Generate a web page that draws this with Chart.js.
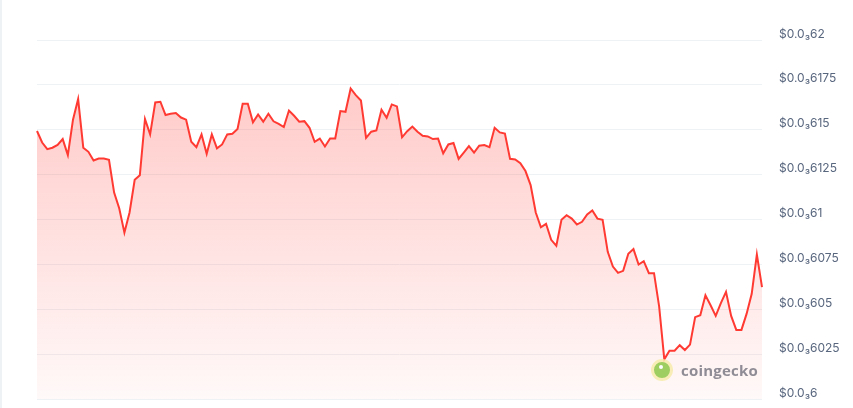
<!DOCTYPE html>
<html>
<head>
<meta charset="utf-8">
<script src="https://cdn.jsdelivr.net/npm/chart.js@4.4.1/dist/chart.umd.min.js"></script>
<style>
  html, body { margin: 0; padding: 0; background: #fff; }
  #wrap { position: relative; width: 853px; height: 408px; border-left: 2px solid #eff2f5; box-sizing: border-box; }
  #priceChart { position: absolute; left: 0; top: 0; }
  .watermark { position: absolute; left: 649px; top: 359px; display: flex; align-items: center; opacity: 0.85; }
  .gecko { width: 22px; height: 22px; border-radius: 50%; background: #8dc647; border: 3px solid #f7ecab; box-sizing: border-box; position: relative; }
  .gecko::after { content: ""; position: absolute; left: 5px; top: 3px; width: 4px; height: 4px; border-radius: 50%; background: #fff; }
  .wm-text { margin-left: 8px; font-family: "Open Sans", Lato, sans-serif; font-weight: 700; font-size: 15px; color: #7c7a85; letter-spacing: 0.2px; }
</style>
</head>
<body>
<div id="wrap">
  <canvas id="priceChart" width="851" height="408"></canvas>
  <div class="watermark"><div class="gecko"></div><span class="wm-text">coingecko</span></div>
</div>
<script>
// =====================
// DATA
// =====================
const prices = [
  0.00061493, 0.00061429, 0.00061392, 0.00061400, 0.00061415, 0.00061448, 0.00061359, 0.00061556,
  0.00061671, 0.00061400, 0.00061377, 0.00061329, 0.00061340, 0.00061340, 0.00061333, 0.00061150,
  0.00061061, 0.00060927, 0.00061039, 0.00061221, 0.00061247, 0.00061560, 0.00061474, 0.00061652,
  0.00061656, 0.00061582, 0.00061589, 0.00061593, 0.00061568, 0.00061556, 0.00061433, 0.00061403,
  0.00061474, 0.00061366, 0.00061474, 0.00061396, 0.00061418, 0.00061474, 0.00061478, 0.00061504,
  0.00061645, 0.00061645, 0.00061541, 0.00061585, 0.00061545, 0.00061589, 0.00061547, 0.00061533,
  0.00061515, 0.00061607, 0.00061578, 0.00061545, 0.00061548, 0.00061511, 0.00061433, 0.00061451,
  0.00061407, 0.00061451, 0.00061451, 0.00061604, 0.00061600, 0.00061730, 0.00061693, 0.00061663,
  0.00061455, 0.00061489, 0.00061496, 0.00061611, 0.00061567, 0.00061641, 0.00061630, 0.00061458,
  0.00061492, 0.00061518, 0.00061489, 0.00061466, 0.00061463, 0.00061448, 0.00061451, 0.00061369,
  0.00061418, 0.00061426, 0.00061338, 0.00061373, 0.00061409, 0.00061373, 0.00061411, 0.00061415,
  0.00061403, 0.00061511, 0.00061485, 0.00061479, 0.00061338, 0.00061334, 0.00061314, 0.00061270,
  0.00061192, 0.00061039, 0.00060957, 0.00060976, 0.00060887, 0.00060853, 0.00060998, 0.00061024,
  0.00061005, 0.00060972, 0.00060987, 0.00061028, 0.00061050, 0.00061005, 0.00060998, 0.00060820,
  0.00060738, 0.00060703, 0.00060714, 0.00060809, 0.00060835, 0.00060749, 0.00060768, 0.00060701,
  0.00060701, 0.00060515, 0.00060221, 0.00060269, 0.00060269, 0.00060300, 0.00060273, 0.00060303,
  0.00060456, 0.00060467, 0.00060578, 0.00060522, 0.00060463, 0.00060534, 0.00060597, 0.00060463,
  0.00060385, 0.00060385, 0.00060474, 0.00060586, 0.00060805, 0.00060623
];

const categories = prices.map((_, i) => i);

const tickValues = [0.0006, 0.0006025, 0.000605, 0.0006075, 0.00061, 0.0006125, 0.000615, 0.0006175, 0.00062];
const tickLabels = ["$0.0₃6", "$0.0₃6025", "$0.0₃605", "$0.0₃6075", "$0.0₃61", "$0.0₃6125", "$0.0₃615", "$0.0₃6175", "$0.0₃62"];

// =====================
// CHART
// =====================
function fillGradient(context) {
  const chart = context.chart;
  const area = chart.chartArea;
  if (!area) return "rgba(255, 58, 51, 0.2)";
  const g = chart.ctx.createLinearGradient(0, area.top, 0, area.bottom);
  g.addColorStop(0, "rgba(255, 58, 51, 0.30)");
  g.addColorStop(1, "rgba(255, 58, 51, 0.03)");
  return g;
}

new Chart(document.getElementById("priceChart"), {
  type: "line",
  data: {
    labels: categories,
    datasets: [{
      data: prices,
      borderColor: "#ff3a33",
      borderWidth: 2,
      backgroundColor: fillGradient,
      fill: "start",
      tension: 0,
      pointRadius: 0
    }]
  },
  options: {
    responsive: false,
    animation: false,
    layout: { padding: { left: 35, top: 40, bottom: 9, right: 0 } },
    plugins: {
      legend: { display: false },
      tooltip: { enabled: false }
    },
    scales: {
      x: {
        display: false,
        offset: false
      },
      y: {
        position: "right",
        min: 0.0006,
        max: 0.00062,
        afterBuildTicks: (scale) => {
          scale.ticks = tickValues.map(v => ({ value: v }));
        },
        afterFit: (scale) => {
          scale.width = 91;
          scale.paddingTop = 0;
          scale.paddingBottom = 0;
        },
        border: { display: false },
        grid: {
          color: "#eff2f5",
          drawTicks: false
        },
        ticks: {
          padding: 17,
          labelOffset: -6,
          color: "#58667e",
          font: { family: "Inter", size: 12 },
          callback: (value, index) => tickLabels[index]
        }
      }
    }
  }
});
</script>
</body>
</html>
